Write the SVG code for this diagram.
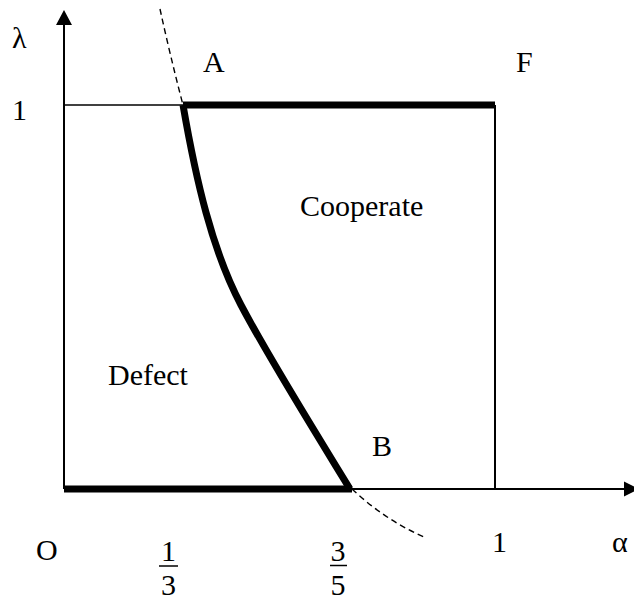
<svg xmlns="http://www.w3.org/2000/svg" width="634" height="602" viewBox="0 0 634 602">
<style>
text{font-family:"Times New Roman",Times,"Liberation Serif",serif;font-size:30px;fill:#000}
.mid{text-anchor:middle}
.axis{stroke:#000;stroke-width:2;fill:none}
.thin{stroke:#000;stroke-width:1.5;fill:none}
.thick{stroke:#000;stroke-width:7;fill:none;stroke-linejoin:round}
.dash{stroke:#000;stroke-width:1.4;fill:none;stroke-dasharray:6 4}
</style>
<rect width="634" height="602" fill="#fff"/>
<g id="connectors">
<line class="axis" x1="64" y1="489" x2="64" y2="24"/>
<polygon points="64,10 56,25 72,25" fill="#000"/>
<line class="axis" x1="64" y1="489" x2="625" y2="489"/>
<polygon points="639,489 624,481.5 624,496.5" fill="#000"/>
<line class="thin" x1="64" y1="105" x2="183" y2="105"/>
<line class="axis" x1="495" y1="105" x2="495" y2="489"/>
<line class="thick" x1="183" y1="105" x2="495" y2="105"/>
<line class="thick" x1="64" y1="489" x2="352" y2="489"/>
<path class="thick" d="M183,105 C196,180 212,250 241,305 S320,440 350,489"/>
<path class="dash" d="M160,9 Q170,55 183,105"/>
<path class="dash" d="M352,489 Q385,520 424,537"/>
</g>
<g id="axis-labels">
<text x="12" y="48">λ</text>
<text x="12" y="120">1</text>
<text x="36" y="560">O</text>
<text x="492" y="552">1</text>
<text x="612" y="552">α</text>
</g>
<g id="frac-1-3">
<text class="mid" x="168.5" y="561">1</text>
<line x1="159" y1="566" x2="178" y2="566" stroke="#000" stroke-width="1.5"/>
<text class="mid" x="168.5" y="595">3</text>
</g>
<g id="frac-3-5">
<text class="mid" x="338" y="561">3</text>
<line x1="330" y1="565.5" x2="347" y2="565.5" stroke="#000" stroke-width="1.5"/>
<text class="mid" x="338" y="595">5</text>
</g>
<g id="point-A"><text x="203" y="72">A</text></g>
<g id="point-F"><text x="516" y="72">F</text></g>
<g id="point-B"><text x="372" y="456">B</text></g>
<g id="region-cooperate"><text x="300" y="216">Cooperate</text></g>
<g id="region-defect"><text x="108" y="385">Defect</text></g>
</svg>
